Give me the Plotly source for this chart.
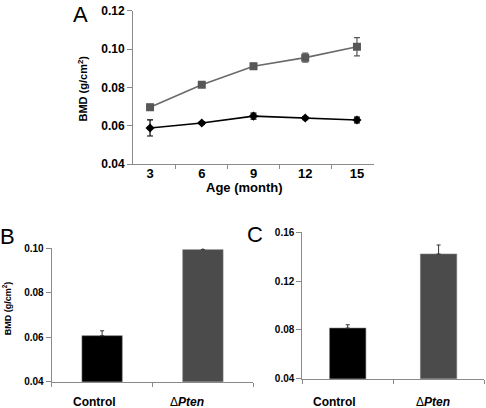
import plotly.graph_objects as go

# ---- Data ----
months = ["3", "6", "9", "12", "15"]
pten_bmd = [0.0696, 0.0813, 0.0910, 0.0955, 0.1012]
pten_err = [0.0015, 0.0010, 0.0015, 0.0024, 0.0048]
control_bmd = [0.0588, 0.0614, 0.0650, 0.0640, 0.0630]
control_err = [0.0042, 0.0007, 0.0016, 0.0008, 0.0015]

groups = ["Control", "ΔPten"]
group_labels = ["<b>Control</b>", "Δ<b><i>Pten</i></b>"]
b_bmd = [0.0607, 0.0994]
b_err = [0.0022, 0.0011]
c_bmd = [0.0815, 0.1422]
c_err = [0.0027, 0.0074]

a_yticks = [0.04, 0.06, 0.08, 0.10, 0.12]
b_yticks = [0.04, 0.06, 0.08, 0.10]
c_yticks = [0.04, 0.08, 0.12, 0.16]

GRAY = "#575757"
BARGRAY = "#4b4b4b"
AXIS = "#8a8a8a"
FONT = "Liberation Sans, Arial, sans-serif"
W, H = 486, 408

fig = go.Figure()

# Panel A
fig.add_trace(go.Scatter(
    x=months, y=pten_bmd, mode="lines+markers",
    line=dict(color="#6a6a6a", width=1.6),
    marker=dict(symbol="square", size=8, color=GRAY),
    error_y=dict(type="data", array=pten_err, color=GRAY, thickness=1.2, width=3),
    xaxis="x", yaxis="y", showlegend=False))
fig.add_trace(go.Scatter(
    x=months, y=control_bmd, mode="lines+markers",
    line=dict(color="#000000", width=1.6),
    marker=dict(symbol="diamond", size=7, color="#000000"),
    error_y=dict(type="data", array=control_err, color="#000000", thickness=1.2, width=3),
    xaxis="x", yaxis="y", showlegend=False))

# Panel B
fig.add_trace(go.Bar(
    x=groups, y=b_bmd, marker=dict(color=["#000000", BARGRAY], line=dict(color="#777777", width=0.6)),
    error_y=dict(type="data", array=b_err, arrayminus=[0, 0], color="#333333", thickness=1, width=2),
    xaxis="x2", yaxis="y2", showlegend=False))

# Panel C
fig.add_trace(go.Bar(
    x=groups, y=c_bmd, marker=dict(color=["#000000", BARGRAY], line=dict(color="#777777", width=0.6)),
    error_y=dict(type="data", array=c_err, arrayminus=[0, 0], color="#333333", thickness=1, width=2),
    xaxis="x3", yaxis="y3", showlegend=False))

def px_x(p):
    return p / W

def px_y(p):
    return 1 - p / H

common_x = dict(type="category", showline=True, linecolor=AXIS, linewidth=1,
                ticks="outside", tickson="boundaries", ticklen=4, tickcolor=AXIS,
                showgrid=False, zeroline=False, automargin=False)
common_y = dict(showline=True, linecolor=AXIS, linewidth=1, ticks="outside", ticklen=5,
                tickcolor=AXIS, showgrid=False, zeroline=False, tickformat=".2f", automargin=False)

fig.update_layout(
    width=W, height=H, margin=dict(l=0, r=0, t=0, b=0, autoexpand=False),
    paper_bgcolor="white", plot_bgcolor="white",
    font=dict(family=FONT, color="#000000"),
    bargap=0.6,
    xaxis=dict(**common_x, domain=[px_x(133), px_x(374)], anchor="y",
               tickfont=dict(size=13, family=FONT, weight="bold"), ticklabelstandoff=-3),
    yaxis=dict(**common_y, domain=[px_y(164), px_y(10.7)], anchor="x",
               range=[0.04, 0.12], tickvals=a_yticks,
               tickfont=dict(size=12, family=FONT, weight="bold")),
    xaxis2=dict(**common_x, domain=[px_x(51.7), px_x(253.3)], anchor="y2", showticklabels=False),
    yaxis2=dict(**common_y, domain=[px_y(381.7), px_y(248.3)], anchor="x2",
                range=[0.04, 0.10], tickvals=b_yticks,
                tickfont=dict(size=10, family=FONT, weight="bold")),
    xaxis3=dict(**common_x, domain=[px_x(302.3), px_x(484)], anchor="y3", showticklabels=False),
    yaxis3=dict(**common_y, domain=[px_y(378.7), px_y(232.3)], anchor="x3",
                range=[0.04, 0.16], tickvals=c_yticks,
                tickfont=dict(size=10, family="Liberation Sans Narrow, Arial Narrow, " + FONT, weight="bold")),
)

ann = []
# panel letters
for t, x, y in [("A", 80.5, 14.5), ("B", 7.5, 236.5), ("C", 254.5, 234.5)]:
    ann.append(dict(text=t, x=px_x(x), y=px_y(y), xref="paper", yref="paper",
                    showarrow=False, font=dict(size=22, family=FONT), xanchor="center", yanchor="middle"))
# axis titles
ann.append(dict(text="<b>BMD (g/cm<sup>2</sup>)</b>", x=px_x(82.5), y=px_y(89), xref="paper", yref="paper",
                textangle=-90, showarrow=False, font=dict(size=11, family=FONT), xanchor="center", yanchor="middle"))
ann.append(dict(text="<b>BMD (g/cm<sup>2</sup>)</b>", x=px_x(7.3), y=px_y(308), xref="paper", yref="paper",
                textangle=-90, showarrow=False, font=dict(size=9, family=FONT), xanchor="center", yanchor="middle"))
ann.append(dict(text="<b>Age (month)</b>", x=px_x(244), y=px_y(188), xref="paper", yref="paper",
                showarrow=False, font=dict(size=13, family=FONT), xanchor="center", yanchor="middle"))
# group labels for B and C
for xr, shifts in [("x2", [-8, -16]), ("x3", [-13, -6])]:
    for g, lab, s in zip(groups, group_labels, shifts):
        ann.append(dict(text=lab, x=g, xref=xr, y=px_y(401.5), yref="paper", xshift=s,
                        showarrow=False, font=dict(size=12, family=FONT), xanchor="center", yanchor="middle"))
fig.update_layout(annotations=ann)

fig.write_html("out.html", config={"displayModeBar": False},
               post_script="document.body.style.margin='0';document.body.style.overflow='hidden';")
